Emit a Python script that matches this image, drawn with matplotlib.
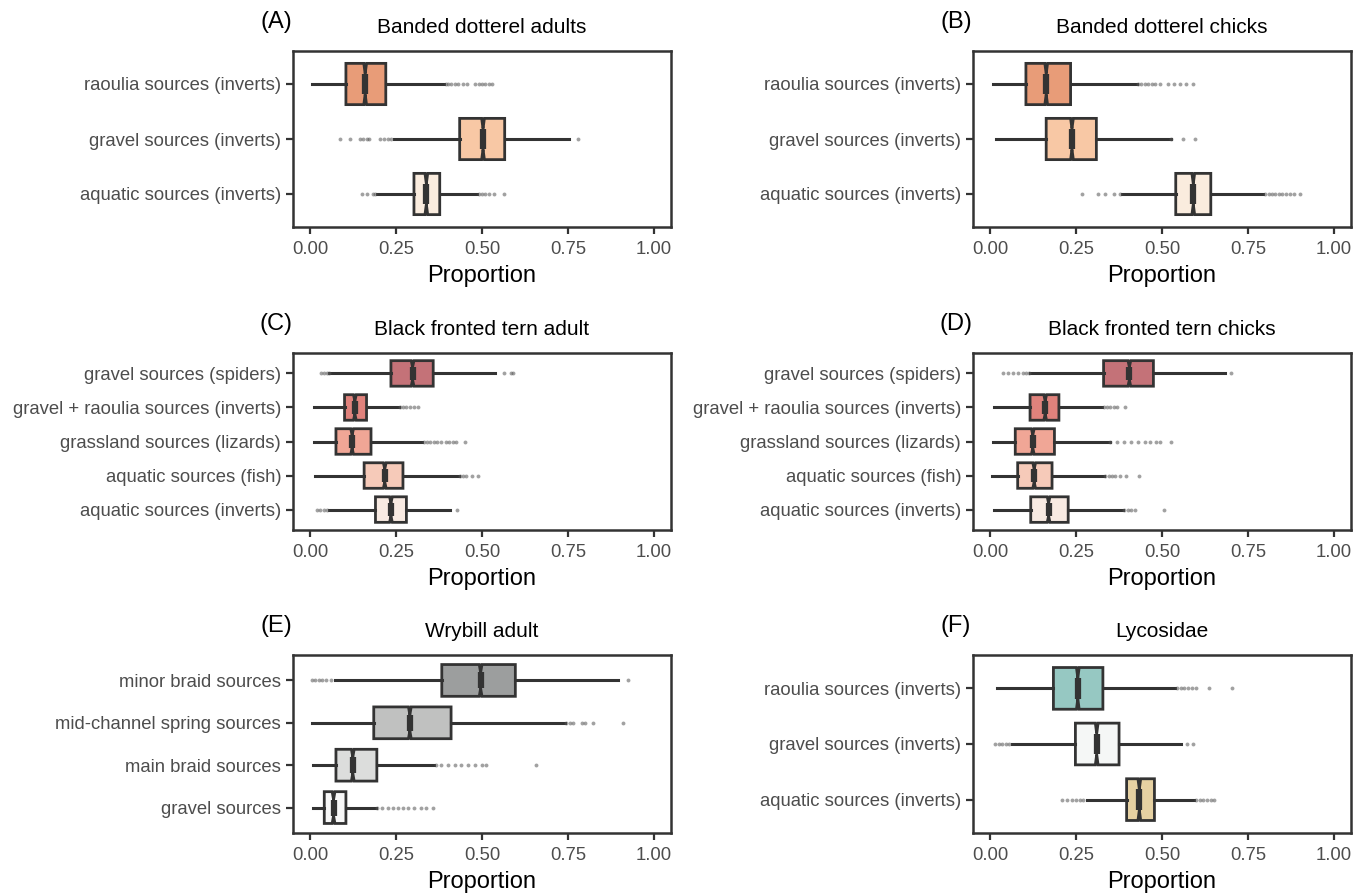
import matplotlib.pyplot as plt

plt.rcParams['font.family'] = ['Liberation Sans', 'DejaVu Sans']

# ---- data: each box as (whisker low, Q1, median, Q3, whisker high) ----
# panel A - Banded dotterel adults
a_labels = ['raoulia sources (inverts)', 'gravel sources (inverts)', 'aquatic sources (inverts)']
a_stats = [(0.006, 0.104, 0.160, 0.220, 0.390),
           (0.243, 0.435, 0.503, 0.566, 0.752),
           (0.195, 0.302, 0.338, 0.377, 0.486)]
a_fliers = [[0.395, 0.40, 0.41, 0.42, 0.43, 0.445, 0.455, 0.48, 0.49, 0.50, 0.51, 0.52, 0.53],
            [0.088, 0.116, 0.146, 0.155, 0.165, 0.172, 0.204, 0.215, 0.225, 0.235, 0.778],
            [0.150, 0.164, 0.183, 0.190, 0.49, 0.50, 0.51, 0.52, 0.534, 0.563]]
a_colors = ['#E89C78', '#F8C8A5', '#FAECDE']

# panel B - Banded dotterel chicks
b_labels = ['raoulia sources (inverts)', 'gravel sources (inverts)', 'aquatic sources (inverts)']
b_stats = [(0.007, 0.104, 0.163, 0.234, 0.426),
           (0.016, 0.163, 0.238, 0.309, 0.525),
           (0.385, 0.540, 0.591, 0.642, 0.795)]
b_fliers = [[0.43, 0.44, 0.45, 0.46, 0.47, 0.48, 0.494, 0.518, 0.536, 0.552, 0.57, 0.591],
            [0.527, 0.560, 0.597],
            [0.268, 0.315, 0.334, 0.361, 0.378, 0.80, 0.81, 0.82, 0.83, 0.84, 0.85, 0.86, 0.872, 0.884, 0.903]]
b_colors = ['#E89C78', '#F8C8A5', '#FAECDE']

# panel C - Black fronted tern adult
c_labels = ['gravel sources (spiders)', 'gravel + raoulia sources (inverts)', 'grassland sources (lizards)',
            'aquatic sources (fish)', 'aquatic sources (inverts)']
c_stats = [(0.056, 0.235, 0.298, 0.358, 0.537),
           (0.010, 0.100, 0.130, 0.164, 0.259),
           (0.010, 0.075, 0.122, 0.177, 0.325),
           (0.015, 0.157, 0.217, 0.270, 0.433),
           (0.056, 0.190, 0.235, 0.280, 0.407)]
c_fliers = [[0.032, 0.040, 0.048, 0.054, 0.565, 0.583, 0.590],
            [0.262, 0.27, 0.28, 0.29, 0.302, 0.315],
            [0.33, 0.34, 0.35, 0.36, 0.37, 0.38, 0.394, 0.405, 0.415, 0.423, 0.450],
            [0.436, 0.445, 0.452, 0.471, 0.489],
            [0.020, 0.030, 0.040, 0.050, 0.426]]
c_colors = ['#C47278', '#E0827C', '#F0A696', '#F6CAB9', '#F8EAE2']

# panel D - Black fronted tern chicks
d_labels = c_labels
d_stats = [(0.116, 0.330, 0.405, 0.475, 0.683),
           (0.010, 0.116, 0.160, 0.200, 0.325),
           (0.008, 0.073, 0.124, 0.187, 0.349),
           (0.005, 0.080, 0.128, 0.180, 0.330),
           (0.010, 0.118, 0.170, 0.227, 0.386)]
d_fliers = [[0.036, 0.053, 0.065, 0.08, 0.095, 0.105, 0.113, 0.700],
            [0.33, 0.34, 0.35, 0.36, 0.37, 0.392],
            [0.35, 0.37, 0.39, 0.41, 0.43, 0.45, 0.465, 0.483, 0.494, 0.525],
            [0.335, 0.345, 0.355, 0.363, 0.378, 0.395, 0.433],
            [0.39, 0.40, 0.41, 0.42, 0.507]]
d_colors = c_colors

# panel E - Wrybill adult
e_labels = ['minor braid sources', 'mid-channel spring sources', 'main braid sources', 'gravel sources']
e_stats = [(0.071, 0.383, 0.496, 0.597, 0.895),
           (0.006, 0.185, 0.290, 0.410, 0.742),
           (0.008, 0.075, 0.124, 0.194, 0.360),
           (0.008, 0.041, 0.068, 0.104, 0.191)]
e_fliers = [[0.006, 0.015, 0.025, 0.035, 0.045, 0.061, 0.926],
            [0.745, 0.755, 0.766, 0.790, 0.800, 0.824, 0.911],
            [0.365, 0.38, 0.40, 0.42, 0.44, 0.46, 0.48, 0.50, 0.513, 0.658],
            [0.195, 0.21, 0.225, 0.24, 0.255, 0.27, 0.285, 0.302, 0.322, 0.336, 0.357]]
e_colors = ['#9C9E9E', '#C0C1C0', '#DCDDDC', '#F8F8F8']

# panel F - Lycosidae
f_labels = ['raoulia sources (inverts)', 'gravel sources (inverts)', 'aquatic sources (inverts)']
f_stats = [(0.019, 0.184, 0.255, 0.328, 0.538),
           (0.063, 0.248, 0.310, 0.375, 0.554),
           (0.281, 0.397, 0.434, 0.478, 0.594)]
f_fliers = [[0.545, 0.555, 0.565, 0.575, 0.586, 0.598, 0.638, 0.704],
            [0.013, 0.025, 0.035, 0.045, 0.055, 0.572, 0.591],
            [0.208, 0.223, 0.237, 0.25, 0.26, 0.27, 0.60, 0.61, 0.62, 0.63, 0.642, 0.652]]
f_colors = ['#96C8C2', '#F5F7F6', '#E6D1A2']

panels = [('(A)', 'Banded dotterel adults', a_labels, a_stats, a_fliers, a_colors),
          ('(B)', 'Banded dotterel chicks', b_labels, b_stats, b_fliers, b_colors),
          ('(C)', 'Black fronted tern adult', c_labels, c_stats, c_fliers, c_colors),
          ('(D)', 'Black fronted tern chicks', d_labels, d_stats, d_fliers, d_colors),
          ('(E)', 'Wrybill adult', e_labels, e_stats, e_fliers, e_colors),
          ('(F)', 'Lycosidae', f_labels, f_stats, f_fliers, f_colors)]

W, H = 1369, 894
fig = plt.figure(figsize=(W / 100, H / 100), dpi=100)

# axes frames in pixels: (left, top, right, bottom)
frames = [(293, 51, 671, 227), (973, 51, 1351, 227),
          (293, 353, 671, 530), (973, 353, 1351, 530),
          (293, 655, 671, 833), (973, 655, 1351, 833)]

dark = '#333333'
for (tag, title, labels, stats, fliers, colors), (l, t, r, b) in zip(panels, frames):
    ax = fig.add_axes([l / W, (H - b) / H, (r - l) / W, (b - t) / H])
    n = len(labels)
    pos = list(range(n, 0, -1))
    bstats = []
    for (wlo, q1, med, q3, whi), fl in zip(stats, fliers):
        bstats.append(dict(whislo=wlo, q1=q1, med=med, q3=q3, whishi=whi,
                           cilo=med - 0.004, cihi=med + 0.004, fliers=fl))
    bp = ax.bxp(bstats, positions=pos, widths=0.75, orientation='horizontal',
                patch_artist=True, shownotches=True, showcaps=False,
                boxprops=dict(edgecolor=dark, linewidth=2.0),
                whiskerprops=dict(color=dark, linewidth=2.2),
                medianprops=dict(color=dark, linewidth=4.5, solid_capstyle='butt'),
                flierprops=dict(marker='o', markersize=2.8, markerfacecolor='#555555',
                                markeredgecolor='none', alpha=0.55))
    for patch, c in zip(bp['boxes'], colors):
        patch.set_facecolor(c)
    ax.set_xlim(-0.05, 1.05)
    ax.set_ylim(0.4, n + 0.6)
    ax.set_yticks(pos)
    ax.set_yticklabels(labels, fontsize=13.3, color='#4D4D4D')
    ax.set_xticks([0, 0.25, 0.5, 0.75, 1.0])
    ax.set_xticklabels(['0.00', '0.25', '0.50', '0.75', '1.00'], fontsize=13.3, color='#4D4D4D')
    ax.tick_params(axis='x', color=dark, width=1.6, length=5, pad=5)
    ax.tick_params(axis='y', color=dark, width=1.6, length=5, pad=3.5)
    for s in ax.spines.values():
        s.set_color(dark)
        s.set_linewidth(1.8)
    ax.set_xlabel('Proportion', fontsize=17, labelpad=5)
    ax.set_title(title, fontsize=15, pad=13)
    fig.text((l - 17) / W, 1 - (t - 29) / H, tag, fontsize=17, ha='center', va='center')

plt.savefig('out.png', dpi=100)
